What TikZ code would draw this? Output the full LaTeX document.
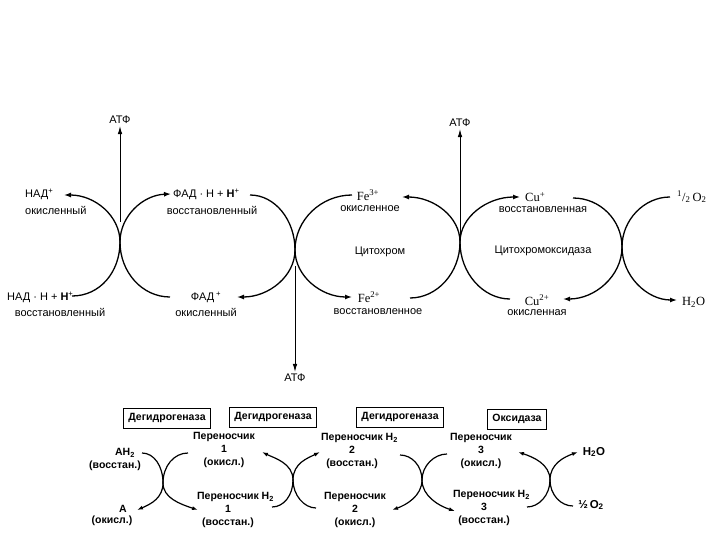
\documentclass[tikz,border=0pt]{standalone}
\usepackage{fontspec}
\setmainfont{Liberation Sans}
\newfontfamily\serifchem{Liberation Serif}
\usetikzlibrary{arrows.meta}
\begin{document}
\begin{tikzpicture}[x=1pt,y=-1pt,
  arm/.style={line width=1.3pt},
  barm/.style={line width=1.2pt},
  tip/.style={-{Latex[length=7pt,width=5pt]}},
  btip/.style={-{Latex[length=6pt,width=4pt]}},
  atf/.style={line width=0.9pt,-{Latex[length=8pt,width=4.5pt]}},
  lbl/.style={inner sep=0pt,font=\fontsize{11}{12}\selectfont},
  chem/.style={inner sep=0pt,font=\fontsize{12.5}{13}\selectfont\serifchem},
  blbl/.style={inner sep=0pt,align=center,font=\fontsize{10.5}{13}\selectfont\bfseries},
  enz/.style={draw,line width=0.8pt,inner xsep=5pt,minimum height=20pt,font=\fontsize{10.5}{11}\selectfont\bfseries}
]
\useasboundingbox (0,0) rectangle (720,540);

% ---------- top diagram: labels ----------
\node[lbl,anchor=west] (nadox1) at (25,194) {НАД\textsuperscript{+}};
\node[lbl,anchor=west] (nadox2) at (25,210) {окисленный};
\node[lbl,anchor=west] (fadh1) at (173,194) {ФАД · Н + \textbf{Н}\textsuperscript{+}};
\node[lbl] (fadh2) at (212,210) {восстановленный};
\node[chem] (fe3a) at (368,195) {Fe\textsuperscript{3+}};
\node[lbl] (fe3b) at (370,209) {окисленное};
\node[lbl] (cyt) at (380,252) {Цитохром};
\node[chem] (fe2a) at (369,297) {Fe\textsuperscript{2+}};
\node[lbl] (fe2b) at (378,312) {восстановленное};
\node[chem,anchor=west] (cu1a) at (525,197) {Cu\textsuperscript{+}};
\node[lbl] (cu1b) at (543,210) {восстановленная};
\node[chem,anchor=west] (o2t) at (677,197) {\textsuperscript{1}/\textsubscript{2}\,O\textsubscript{2}};
\node[lbl] (cytox) at (543,251) {Цитохромоксидаза};
\node[chem] (cu2a) at (537,300) {Cu\textsuperscript{2+}};
\node[lbl] (cu2b) at (537,313) {окисленная};
\node[chem,anchor=west] (h2ot) at (682,302) {H\textsubscript{2}O};
\node[lbl,anchor=west] (nadha) at (7,297) {НАД · Н + \textbf{Н}\textsuperscript{+}};
\node[lbl] (nadhb) at (60,312) {восстановленный};
\node[lbl] (fada) at (206,297) {ФАД\,\textsuperscript{+}};
\node[lbl] (fadb) at (206,312) {окисленный};
\node[lbl,inner ysep=2pt] (atp1) at (120,120) {АТФ};
\node[lbl,inner ysep=2pt] (atp2) at (295,378) {АТФ};
\node[lbl,inner ysep=2pt] (atp3) at (460,123) {АТФ};

% ---------- top diagram: crossings ----------
\coordinate (t1) at (120,242);
\coordinate (t2) at (295,250);
\coordinate (t3) at (460,242);
\coordinate (t4) at (622,247);
\coordinate (t1ul) at (64,195);  \coordinate (t1ur) at (171,194);
\coordinate (t1ll) at (72,296);  \coordinate (t1lr) at (170,297);
\coordinate (t2ul) at (250,195); \coordinate (t2ur) at (352,195);
\coordinate (t2ll) at (237,297); \coordinate (t2lr) at (352,297);
\coordinate (t3ul) at (402,197); \coordinate (t3ur) at (520,197);
\coordinate (t3ll) at (410,298); \coordinate (t3lr) at (510,299);
\coordinate (t4ul) at (573,198); \coordinate (t4ur) at (670,197);
\coordinate (t4ll) at (563,299); \coordinate (t4lr) at (677,300);

\draw[arm,tip] (t1) .. controls +(0,-26) and +(31,0) .. (t1ul);
\draw[arm,tip] (t1) .. controls +(0,-26) and +(-28,1) .. (t1ur);
\draw[arm] (t1) .. controls +(0,30) and +(28,0) .. (t1ll);
\draw[arm] (t1) .. controls +(0,30) and +(-28,0) .. (t1lr);

\draw[arm] (t2) .. controls +(0,-30) and +(25,0) .. (t2ul);
\draw[arm] (t2) .. controls +(0,-30) and +(-31,0) .. (t2ur);
\draw[arm,tip] (t2) .. controls +(0,26) and +(32,0) .. (t2ll);
\draw[arm,tip] (t2) .. controls +(0,26) and +(-31,0) .. (t2lr);

\draw[arm,tip] (t3) .. controls +(0,-25) and +(32,0) .. (t3ul);
\draw[arm,tip] (t3) .. controls +(0,-25) and +(-33,0) .. (t3ur);
\draw[arm] (t3) .. controls +(0,31) and +(27,0) .. (t3ll);
\draw[arm] (t3) .. controls +(0,31) and +(-27,0) .. (t3lr);

\draw[arm] (t4) .. controls +(0,-27) and +(27,0) .. (t4ul);
\draw[arm] (t4) .. controls +(0,-27) and +(-26,0) .. (t4ur);
\draw[arm,tip] (t4) .. controls +(0,29) and +(32,0) .. (t4ll);
\draw[arm,tip] (t4) .. controls +(0,29) and +(-30,0) .. (t4lr);

% ATP arrows
\coordinate (a1s) at (120,222);
\coordinate (a2s) at (295,266);
\coordinate (a3s) at (460,236);
\draw[atf] (a1s) -- (atp1);
\draw[atf] (a2s) -- (atp2);
\draw[atf] (a3s) -- (atp3);

% ---------- bottom diagram ----------
\node[enz] (e1) at (167,418) {Дегидрогеназа};
\node[enz] (e2) at (273,417) {Дегидрогеназа};
\node[enz] (e3) at (400,417) {Дегидрогеназа};
\node[enz] (e4) at (517,419) {Оксидаза};

\node[blbl] (ah2a) at (125,453) {AH\textsubscript{2}};
\node[blbl] (ah2b) at (115,466) {(восстан.)};
\node[blbl] (aa) at (123,509) {A};
\node[blbl] (ab) at (112,521) {(окисл.)};
\node[blbl] (p1ox) at (224,450) {Переносчик\\1\\(окисл.)};
\node[blbl] (p1red) at (228,510) {Переносчик\rlap{ H\textsubscript{2}}\\1\\(восстан.)};
\node[blbl] (p2red) at (352,451) {Переносчик\rlap{ H\textsubscript{2}}\\2\\(восстан.)};
\node[blbl] (p2ox) at (355,510) {Переносчик\\2\\(окисл.)};
\node[blbl] (p3ox) at (481,451) {Переносчик\\3\\(окисл.)};
\node[blbl] (p3red) at (484,508) {Переносчик\rlap{ H\textsubscript{2}}\\3\\(восстан.)};
\node[blbl,font=\fontsize{11.5}{13}\selectfont\bfseries] (h2ob) at (594,452) {H\textsubscript{2}O};
\node[blbl,font=\fontsize{11.5}{13}\selectfont\bfseries] (o2b) at (591,505) {½\,O\textsubscript{2}};

\coordinate (b1) at (163,483);
\coordinate (b2) at (293,480);
\coordinate (b3) at (422,480);
\coordinate (b4) at (550,480);
\coordinate (b1ul) at (142,453); \coordinate (b1ur) at (188,453);
\coordinate (b1ll) at (137,510); \coordinate (b1lr) at (198,510);
\coordinate (b2ul) at (262,452); \coordinate (b2ur) at (320,452);
\coordinate (b2ll) at (272,507); \coordinate (b2lr) at (316,508);
\coordinate (b3ul) at (400,455); \coordinate (b3ur) at (447,454);
\coordinate (b3ll) at (392,510); \coordinate (b3lr) at (455,511);
\coordinate (b4ul) at (518,452); \coordinate (b4ur) at (578,452);
\coordinate (b4ll) at (527,507); \coordinate (b4lr) at (573,506);

\draw[barm] (b1) .. controls +(0,-17) and +(12,0) .. (b1ul);
\draw[barm] (b1) .. controls +(0,-17) and +(-14,0) .. (b1ur);
\draw[barm,btip] (b1) .. controls +(0,15) and +(14,-6) .. (b1ll);
\draw[barm,btip] (b1) .. controls +(0,15) and +(-18,-6) .. (b1lr);

\draw[barm,btip] (b2) .. controls +(0,-17) and +(12,6) .. (b2ul);
\draw[barm,btip] (b2) .. controls +(0,-17) and +(-12,6) .. (b2ur);
\draw[barm] (b2) .. controls +(0,15) and +(12,0) .. (b2ll);
\draw[barm] (b2) .. controls +(0,15) and +(-12,0) .. (b2lr);

\draw[barm] (b3) .. controls +(0,-14) and +(12,0) .. (b3ul);
\draw[barm] (b3) .. controls +(0,-14) and +(-13,0) .. (b3ur);
\draw[barm,btip] (b3) .. controls +(0,16) and +(14,-5) .. (b3ll);
\draw[barm,btip] (b3) .. controls +(0,16) and +(-16,-5) .. (b3lr);

\draw[barm,btip] (b4) .. controls +(0,-16) and +(15,5) .. (b4ul);
\draw[barm,btip] (b4) .. controls +(0,-16) and +(-14,5) .. (b4ur);
\draw[barm] (b4) .. controls +(0,15) and +(12,0) .. (b4ll);
\draw[barm] (b4) .. controls +(0,15) and +(-12,0) .. (b4lr);
\end{tikzpicture}
\end{document}
